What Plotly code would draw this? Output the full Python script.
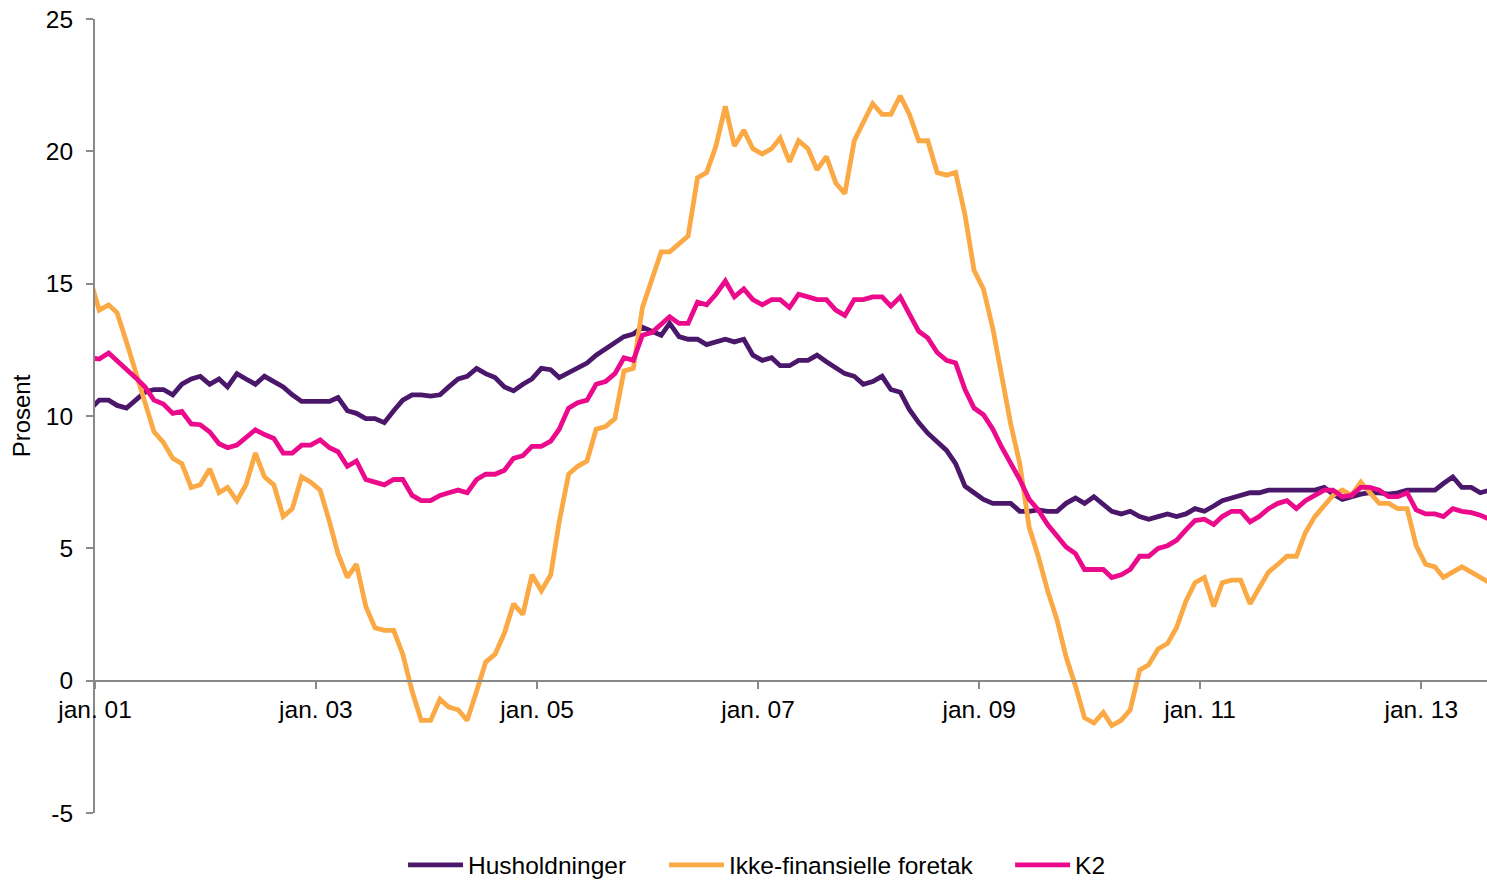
import pandas as pd
import plotly.graph_objects as go

# Monthly observations, Dec 2000 - Aug 2013 (mid-month)
start_month = "2000-12-01"
n_obs = 153

husholdninger = [
    10.25,
    10.6, 10.6, 10.4, 10.3, 10.6, 10.9, 11.0, 11.0, 10.8, 11.2, 11.4, 11.5,
    11.2, 11.4, 11.1, 11.6, 11.4, 11.2, 11.5, 11.3, 11.1, 10.8, 10.55, 10.55,
    10.55, 10.55, 10.7, 10.2, 10.1, 9.9, 9.9, 9.75, 10.2, 10.6, 10.8, 10.8,
    10.75, 10.8, 11.1, 11.4, 11.5, 11.8, 11.6, 11.45, 11.1, 10.95, 11.2, 11.4,
    11.8, 11.75, 11.45, 11.65, 11.85, 12.0, 12.3, 12.55, 12.75, 13.0, 13.1, 13.35,
    13.2, 13.05, 13.5, 13.0, 12.9, 12.9, 12.7, 12.8, 12.9, 12.8, 12.9, 12.3,
    12.1, 12.2, 11.9, 11.9, 12.1, 12.1, 12.3, 12.05, 11.8, 11.6, 11.5, 11.2,
    11.3, 11.5, 11.0, 10.9, 10.25, 9.75, 9.35, 9.05, 8.7, 8.2, 7.35, 7.1,
    6.85, 6.7, 6.7, 6.7, 6.4, 6.4, 6.45, 6.4, 6.4, 6.7, 6.9, 6.7,
    6.95, 6.65, 6.4, 6.3, 6.4, 6.2, 6.1, 6.2, 6.3, 6.2, 6.3, 6.5,
    6.4, 6.6, 6.8, 6.9, 7.0, 7.1, 7.1, 7.2, 7.2, 7.2, 7.2, 7.2,
    7.2, 7.3, 7.05, 6.85, 6.95, 7.05, 7.1, 7.1, 7.05, 7.1, 7.2, 7.2,
    7.2, 7.2, 7.45, 7.7, 7.3, 7.3, 7.1, 7.2,
]

ikke_finansielle = [
    15.2,
    14.0, 14.2, 13.9, 12.8, 11.7, 10.5, 9.4, 9.0, 8.4, 8.2, 7.3, 7.4,
    8.0, 7.1, 7.3, 6.8, 7.4, 8.6, 7.7, 7.4, 6.2, 6.5, 7.7, 7.5,
    7.2, 6.0, 4.8, 3.9, 4.4, 2.8, 2.0, 1.9, 1.9, 1.0, -0.4, -1.5,
    -1.5, -0.7, -1.0, -1.1, -1.5, -0.4, 0.7, 1.0, 1.8, 2.9, 2.5, 4.0,
    3.4, 4.0, 6.0, 7.8, 8.1, 8.3, 9.5, 9.6, 9.9, 11.7, 11.8, 14.1,
    15.1, 16.2, 16.2, 16.5, 16.8, 19.0, 19.2, 20.2, 21.7, 20.2, 20.8, 20.1,
    19.9, 20.1, 20.5, 19.6, 20.4, 20.1, 19.3, 19.8, 18.8, 18.4, 20.4, 21.1,
    21.8, 21.4, 21.4, 22.1, 21.4, 20.4, 20.4, 19.2, 19.1, 19.2, 17.6, 15.5,
    14.8, 13.3, 11.5, 9.7, 8.2, 5.8, 4.7, 3.4, 2.3, 0.9, -0.2, -1.4,
    -1.6, -1.2, -1.7, -1.5, -1.1, 0.4, 0.6, 1.2, 1.4, 2.0, 3.0, 3.7,
    3.9, 2.8, 3.7, 3.8, 3.8, 2.9, 3.5, 4.1, 4.4, 4.7, 4.7, 5.6,
    6.2, 6.6, 7.0, 7.2, 7.0, 7.5, 7.1, 6.7, 6.7, 6.5, 6.5, 5.1,
    4.4, 4.3, 3.9, 4.1, 4.3, 4.1, 3.9, 3.7,
]

k2 = [
    12.2,
    12.15, 12.38, 12.1, 11.75, 11.45, 11.1, 10.6, 10.45, 10.1, 10.17, 9.7, 9.67,
    9.4, 8.95, 8.8, 8.9, 9.2, 9.48, 9.3, 9.15, 8.6, 8.6, 8.9, 8.9,
    9.1, 8.8, 8.65, 8.1, 8.3, 7.6, 7.5, 7.4, 7.6, 7.6, 7.0, 6.8,
    6.8, 7.0, 7.1, 7.2, 7.1, 7.6, 7.8, 7.8, 7.95, 8.4, 8.5, 8.85,
    8.85, 9.05, 9.5, 10.3, 10.5, 10.6, 11.2, 11.3, 11.6, 12.2, 12.1, 13.05,
    13.15, 13.45, 13.75, 13.5, 13.5, 14.3, 14.2, 14.6, 15.1, 14.5, 14.8, 14.4,
    14.2, 14.4, 14.4, 14.1, 14.6, 14.5, 14.4, 14.4, 14.0, 13.8, 14.4, 14.4,
    14.5, 14.5, 14.15, 14.5, 13.9, 13.2, 12.95, 12.4, 12.1, 12.0, 11.0, 10.3,
    10.05, 9.5, 8.85, 8.2, 7.6, 6.85, 6.45, 5.9, 5.45, 5.05, 4.8, 4.2,
    4.2, 4.2, 3.9, 4.0, 4.2, 4.7, 4.7, 5.0, 5.1, 5.3, 5.7, 6.05,
    6.1, 5.9, 6.2, 6.4, 6.4, 6.0, 6.2, 6.5, 6.7, 6.8, 6.5, 6.8,
    7.0, 7.2, 7.2, 6.95, 7.0, 7.3, 7.3, 7.2, 6.95, 6.95, 7.1, 6.45,
    6.3, 6.3, 6.2, 6.5, 6.4, 6.35, 6.25, 6.1,
]

series_names = ["Husholdninger", "Ikke-finansielle foretak", "K2"]
series_colors = ["#4B176B", "#FBA944", "#EC0A8C"]

tick_dates = ["2001-01-01", "2003-01-01", "2005-01-01", "2007-01-01",
              "2009-01-01", "2011-01-01", "2013-01-01"]
tick_labels = ["jan. 01", "jan. 03", "jan. 05", "jan. 07",
               "jan. 09", "jan. 11", "jan. 13"]
y_ticks = [-5, 0, 5, 10, 15, 20, 25]
y_tick_labels = ["-5", "0", "5", "10", "15", "20", "25"]

dates = pd.date_range(start_month, periods=n_obs, freq="MS") + pd.Timedelta(days=14)

FONT = "Liberation Sans, Arial, sans-serif"
AXIS_COLOR = "#898989"
FS = 24.5

legend_ids = ["legend", "legend2", "legend3"]
legend_x = [0.2213, 0.4088, 0.6574]

fig = go.Figure()
for name, vals, col, lid in zip(series_names, [husholdninger, ikke_finansielle, k2],
                                series_colors, legend_ids):
    fig.add_trace(go.Scatter(x=dates, y=vals, mode="lines", name=name, legend=lid,
                             line=dict(color=col, width=4.8)))

legend_style = dict(orientation="h", xanchor="left",
                    yref="container", y=(880 - 865) / 880, yanchor="middle",
                    font=dict(family=FONT, size=FS, color="#000000"),
                    itemwidth=55, bgcolor="rgba(0,0,0,0)")

fig.update_layout(
    width=1487, height=880,
    margin=dict(l=95, r=0, t=19, b=67, autoexpand=False),
    paper_bgcolor="white", plot_bgcolor="white",
    font=dict(family=FONT, size=FS, color="#000000"),
    showlegend=True,
    legend=dict(x=legend_x[0], **legend_style),
    legend2=dict(x=legend_x[1], **legend_style),
    legend3=dict(x=legend_x[2], **legend_style),
    xaxis=dict(
        type="date",
        range=["2001-01-01", "2013-08-06"],
        tickvals=tick_dates, ticktext=tick_labels,
        showgrid=False, zeroline=False,
        showline=True, linecolor=AXIS_COLOR, linewidth=2,
        ticks="outside", ticklen=7, tickwidth=2, tickcolor=AXIS_COLOR,
        anchor="free", position=1/6,
        tickfont=dict(family=FONT, size=FS, color="#000000"),
    ),
    yaxis=dict(
        range=[-5, 25], tickvals=y_ticks, ticktext=y_tick_labels,
        showgrid=False, zeroline=False,
        showline=True, linecolor=AXIS_COLOR, linewidth=2,
        ticks="outside", ticklen=7, tickwidth=2, tickcolor=AXIS_COLOR,
        ticklabelstandoff=8,
        tickfont=dict(family=FONT, size=FS, color="#000000"),
        title=dict(text="Prosent", standoff=8,
                   font=dict(family=FONT, size=24, color="#000000")),
    ),
)

fig.write_html("out.html", config={"displayModeBar": False},
               post_script="document.body.style.margin='0';")
